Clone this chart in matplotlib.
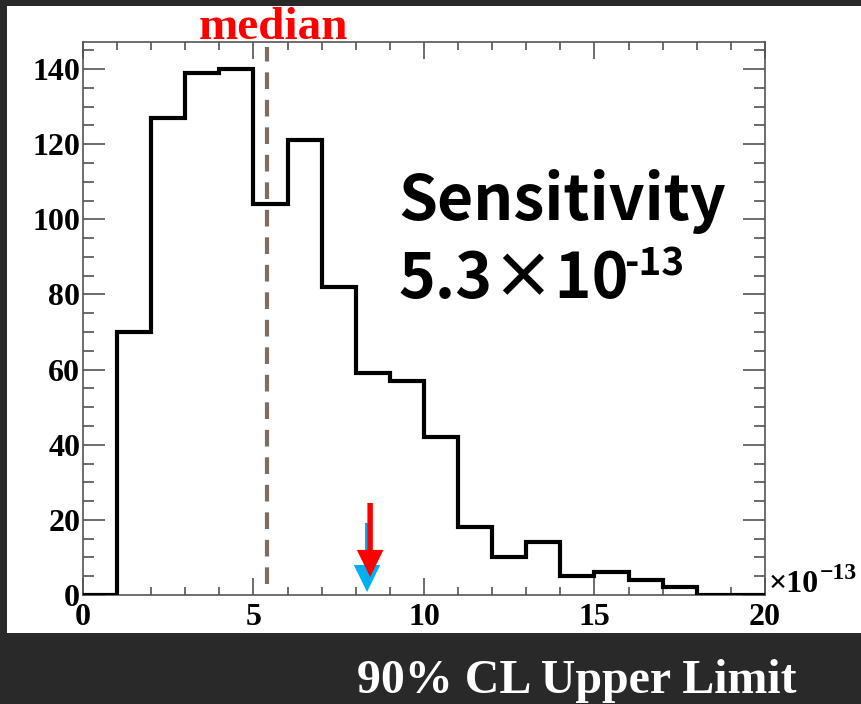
import numpy as np
import matplotlib.pyplot as plt
from matplotlib.patches import Rectangle, FancyArrow
from matplotlib.ticker import MultipleLocator

# Histogram of 90% CL upper limits (units of 1e-13)
bin_edges = np.arange(0, 21, 1)
counts = [0, 70, 127, 139, 140, 104, 121, 82, 59, 57, 42, 18, 10, 14, 5, 6, 4, 2, 0, 0]

median_value = 5.4
# two upper-limit markers: (x, shaft top, tip)
red_limit = (8.42, 24.5, 4.8)
blue_limit = (8.33, 19.2, 0.8)

plt.rcParams['font.family'] = ['Liberation Serif', 'DejaVu Serif']

W, H = 862, 704
fig = plt.figure(figsize=(W / 100, H / 100), dpi=100, facecolor='#292929')
# white canvas area
fig.patches.append(Rectangle((7 / W, 71 / H), 1 - 7 / W, 627 / H,
                             transform=fig.transFigure, facecolor='white',
                             edgecolor='none', zorder=-5))

ax = fig.add_axes([83 / W, 109 / H, 682 / W, 553 / H])
ax.set_facecolor('white')

ax.stairs(counts, bin_edges, color='black', lw=3, zorder=3)

# median line
ax.plot([median_value, median_value], [2.9, 145.9], color='#7d6e63', lw=3,
        dashes=(4.0, 2.6), zorder=2)

# arrows (blue under red)
for (x, top, tip), col, w in [(blue_limit, '#00b0f0', 0.12), (red_limit, '#ff0000', 0.16)]:
    ax.add_patch(FancyArrow(x, top, 0, tip - top, width=w, head_width=0.78,
                            head_length=7.2, length_includes_head=True,
                            color=col, lw=0, zorder=4))

ax.set_xlim(0, 20)
ax.set_ylim(0, 147.2)
ax.xaxis.set_major_locator(MultipleLocator(5))
ax.xaxis.set_minor_locator(MultipleLocator(1))
ax.yaxis.set_major_locator(MultipleLocator(20))
ax.yaxis.set_minor_locator(MultipleLocator(5))
ax.tick_params(which='both', direction='in', top=True, right=True,
               color='#444444', width=1.1, labelsize=23)
ax.tick_params(axis='x', which='major', length=12, pad=6)
ax.tick_params(axis='x', which='minor', length=6)
ax.tick_params(axis='y', which='major', length=16, pad=2)
ax.tick_params(axis='y', which='minor', length=8)
for lab in ax.get_xticklabels() + ax.get_yticklabels():
    lab.set_fontweight('bold')
for s in ax.spines.values():
    s.set_color('#555555')
    s.set_linewidth(1.2)

# axis exponent
fig.text(769 / W, 1 - 592 / H, '×10', fontsize=23, fontweight='bold',
         ha='left', va='baseline')
fig.text(820 / W, 1 - 579 / H, '−13', fontsize=17, fontweight='bold',
         ha='left', va='baseline')

ax.text(median_value + 0.2, 148, 'median', color='red', fontsize=34,
        fontweight='bold', ha='center', va='baseline', clip_on=False)

sans = ['Noto Sans CJK JP', 'DejaVu Sans']
fig.text(398 / W, 1 - 220 / H, 'Sensitivity', family=sans, fontsize=45,
         fontweight='bold', ha='left', va='baseline')
fig.text(398 / W, 1 - 298 / H, '5.3×10', family=sans, fontsize=45,
         fontweight='bold', ha='left', va='baseline')
fig.text(624 / W, 1 - 275 / H, '-13', family=sans, fontsize=28,
         fontweight='bold', ha='left', va='baseline')

fig.text(577 / W, 1 - 693 / H, '90% CL Upper Limit', color='white',
         fontsize=34.5, fontweight='bold', ha='center', va='baseline')

fig.savefig('out.png', dpi=100, facecolor=fig.get_facecolor())
